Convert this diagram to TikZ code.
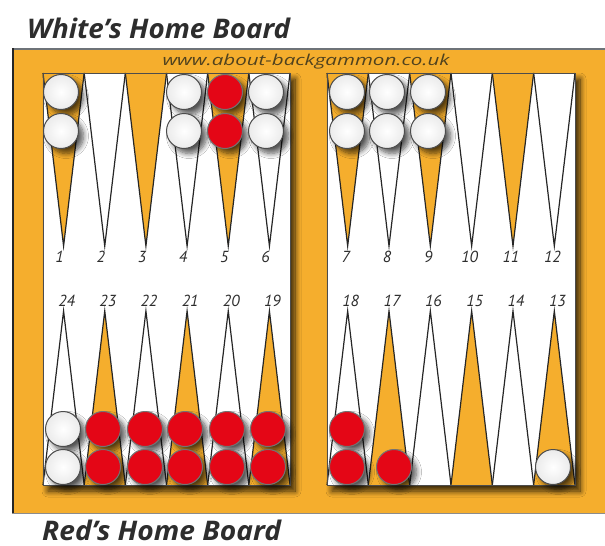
\documentclass[tikz,border=0pt]{standalone}
\usepackage{fontspec}
\setmainfont{PT Sans}
\newfontfamily\titlefont{Open Sans}
\usetikzlibrary{shadows.blur}
\definecolor{boardorange}{RGB}{245,174,45}
\definecolor{chkred}{RGB}{228,6,22}
\definecolor{txtgray}{RGB}{45,45,45}
\definecolor{urlcol}{RGB}{80,66,30}
\definecolor{slateline}{RGB}{110,115,120}
\tikzset{
  title/.style={anchor=base west, inner sep=0pt, text=txtgray, font=\titlefont\fontsize{27}{27}\selectfont\bfseries\itshape},
  num/.style={inner sep=0pt, text=txtgray, font=\fontsize{16}{16}\selectfont\itshape},
  chk/.style={circle, minimum size=35pt, inner sep=0pt, line width=1pt,
    blur shadow={shadow xshift=5pt, shadow yshift=-5pt, shadow blur radius=5pt, shadow blur steps=8, shadow opacity=65}},
  wchk/.style={chk, draw=black!70, inner color=white, outer color=black!8},
  rchk/.style={chk, draw=black!55, fill=chkred},
  pointline/.style={draw=black!85, line width=1.2pt},
  panel/.style={fill=white, blur shadow={shadow xshift=5pt, shadow yshift=-6pt, shadow blur radius=6pt, shadow blur steps=10, shadow opacity=80}}
}
\begin{document}
\begin{tikzpicture}[x=1pt,y=-1pt]
\useasboundingbox (0,0) rectangle (605,546);
\fill[white] (0,0) rectangle (605,546);
% board
\fill[boardorange] (12,48) rectangle (605,513);
\draw[slateline, line width=1.8pt] (12,48.9) -- (605,48.9);
\draw[black!85, line width=2pt] (13,48) -- (13,513);
\draw[black!45, line width=1pt] (12,513) -- (605,513);
% panels
\path[panel] (43,73) rectangle (290,485);
\path[panel] (327,73) rectangle (575,485);
% left panel points
\foreach \i in {0,...,5}{
  \pgfmathsetmacro{\xl}{43+\i*41.17}
  \pgfmathsetmacro{\xr}{\xl+41.17}
  \pgfmathsetmacro{\xc}{\xl+20.58}
  \pgfmathtruncatemacro{\top}{1+\i}
  \pgfmathtruncatemacro{\bot}{24-\i}
  \pgfmathtruncatemacro{\ev}{mod(\i,2)}
  \ifnum\ev=0
    \fill[boardorange] (\xl,73) -- (\xc,246) -- (\xr,73) -- cycle;
  \else
    \fill[boardorange] (\xl,485) -- (\xc,311) -- (\xr,485) -- cycle;
  \fi
  \draw[pointline] (\xl,73) -- (\xc,246) -- (\xr,73);
  \draw[pointline] (\xl,485) -- (\xc,311) -- (\xr,485);
  \node[num] (p\top) at (\xc-4,257) {\top};
  \node[num] (p\bot) at (\xc+3,301) {\bot};
}
% right panel points
\foreach \i in {0,...,5}{
  \pgfmathsetmacro{\xl}{327+\i*41.33}
  \pgfmathsetmacro{\xr}{\xl+41.33}
  \pgfmathsetmacro{\xc}{\xl+20.67}
  \pgfmathtruncatemacro{\top}{7+\i}
  \pgfmathtruncatemacro{\bot}{18-\i}
  \pgfmathtruncatemacro{\ev}{mod(\i,2)}
  \ifnum\ev=0
    \fill[boardorange] (\xl,73) -- (\xc,246) -- (\xr,73) -- cycle;
  \else
    \fill[boardorange] (\xl,485) -- (\xc,311) -- (\xr,485) -- cycle;
  \fi
  \draw[pointline] (\xl,73) -- (\xc,246) -- (\xr,73);
  \draw[pointline] (\xl,485) -- (\xc,311) -- (\xr,485);
  \node[num] (p\top) at (\xc-2,257) {\top};
  \node[num] (p\bot) at (\xc+3,301) {\bot};
}
% panel outlines
\draw[black!70, line width=1pt] (43,73) rectangle (290,485);
\draw[black!70, line width=1pt] (327,73) rectangle (575,485);
% checkers top left
\node[wchk] (c1a) at (61,92) {};
\node[wchk] (c1b) at (61,131) {};
\node[wchk] (c4a) at (184,92) {};
\node[wchk] (c4b) at (184,131) {};
\node[rchk] (c5a) at (225,92) {};
\node[rchk] (c5b) at (225,131) {};
\node[wchk] (c6a) at (266,92) {};
\node[wchk] (c6b) at (266,131) {};
% checkers top right
\node[wchk] (c7a) at (347,92) {};
\node[wchk] (c7b) at (347,131) {};
\node[wchk] (c8a) at (387,92) {};
\node[wchk] (c8b) at (387,131) {};
\node[wchk] (c9a) at (428,92) {};
\node[wchk] (c9b) at (428,131) {};
% checkers bottom left
\node[wchk] (c24a) at (63,429) {};
\node[wchk] (c24b) at (63,467) {};
\foreach \n/\x in {23/103,22/145,21/185,20/227,19/268}{
  \node[rchk] (c\n a) at (\x,429) {};
  \node[rchk] (c\n b) at (\x,467) {};
}
% checkers bottom right
\node[rchk] (c18a) at (347,429) {};
\node[rchk] (c18b) at (347,467) {};
\node[rchk] (c17b) at (394,467) {};
\node[wchk] (c13b) at (553,467) {};
% texts
\node[title] (wtitle) at (27,38) {\resizebox{263pt}{\height}{White’s Home Board}};
\node[title] (rtitle) at (42,540) {\resizebox{239pt}{\height}{Red’s Home Board}};
\node[inner sep=0pt, text=urlcol, font=\titlefont\fontsize{15}{15}\selectfont\itshape] (url) at (306,62) {\resizebox{287pt}{\height}{www.about-backgammon.co.uk}};
\end{tikzpicture}
\end{document}
